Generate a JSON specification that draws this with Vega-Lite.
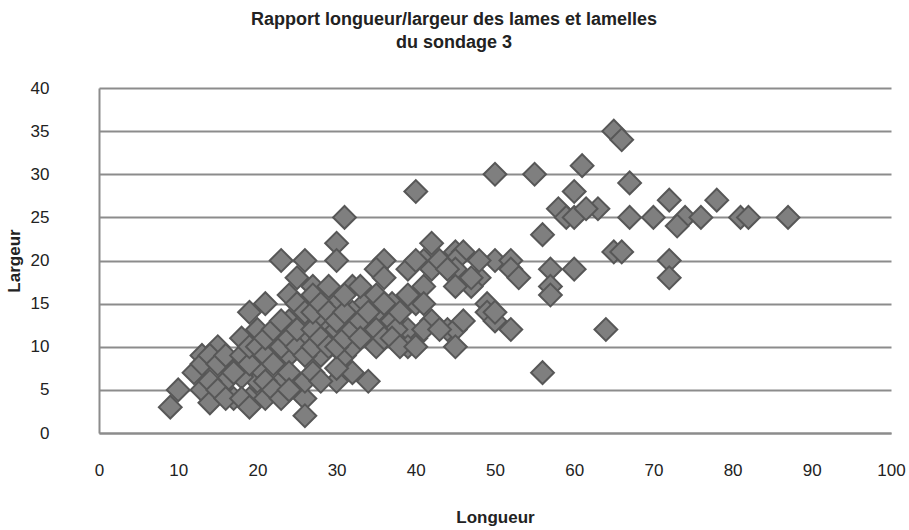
{
"$schema": "https://vega.github.io/schema/vega-lite/v6.json",
"autosize": {"type": "none"},
"padding": {"left": 99, "top": 88, "right": 16, "bottom": 97},
"width": 792,
"height": 345,
"background": "white",
"config": {"view": {"stroke": null}, "font": "Liberation Sans"},
"title": {"text": ["Rapport longueur/largeur des lames et lamelles", "du sondage 3"], "font": "Liberation Sans", "fontSize": 18, "fontWeight": "bold", "color": "#222222", "anchor": "middle", "dx": -41, "offset": 27, "lineHeight": 23},
"data": {"values": [
{"Longueur":65,"Largeur":35},{"Longueur":66,"Largeur":34},{"Longueur":67,"Largeur":29},{"Longueur":61,"Largeur":31},{"Longueur":50,"Largeur":30},{"Longueur":55,"Largeur":30},{"Longueur":40,"Largeur":28},{"Longueur":60,"Largeur":28},{"Longueur":63,"Largeur":26},{"Longueur":67,"Largeur":25},{"Longueur":70,"Largeur":25},{"Longueur":72,"Largeur":27},{"Longueur":74,"Largeur":25},{"Longueur":73,"Largeur":24},{"Longueur":76,"Largeur":25},{"Longueur":78,"Largeur":27},{"Longueur":81,"Largeur":25},{"Longueur":82,"Largeur":25},{"Longueur":87,"Largeur":25},{"Longueur":65,"Largeur":21},{"Longueur":66,"Largeur":21},{"Longueur":72,"Largeur":20},{"Longueur":72,"Largeur":18},{"Longueur":64,"Largeur":12},{"Longueur":58,"Largeur":26},{"Longueur":59,"Largeur":25},{"Longueur":60,"Largeur":25},{"Longueur":61.5,"Largeur":26},{"Longueur":56,"Largeur":23},{"Longueur":42,"Largeur":22},{"Longueur":41,"Largeur":20},{"Longueur":45,"Largeur":21},{"Longueur":46,"Largeur":21},{"Longueur":45,"Largeur":20},{"Longueur":45,"Largeur":19},{"Longueur":50,"Largeur":20},{"Longueur":52,"Largeur":20},{"Longueur":52,"Largeur":19},{"Longueur":53,"Largeur":18},{"Longueur":57,"Largeur":19},{"Longueur":60,"Largeur":19},{"Longueur":57,"Largeur":17},{"Longueur":57,"Largeur":16},{"Longueur":48,"Largeur":18},{"Longueur":47,"Largeur":17},{"Longueur":45,"Largeur":17},{"Longueur":41,"Largeur":17},{"Longueur":49,"Largeur":15},{"Longueur":49,"Largeur":14},{"Longueur":50,"Largeur":13},{"Longueur":52,"Largeur":12},{"Longueur":42,"Largeur":13},{"Longueur":44,"Largeur":12},{"Longueur":45,"Largeur":12},{"Longueur":45,"Largeur":10},{"Longueur":40,"Largeur":11},{"Longueur":56,"Largeur":7},
{"Longueur":31,"Largeur":25},{"Longueur":30,"Largeur":22},{"Longueur":30,"Largeur":20},{"Longueur":23,"Largeur":20},{"Longueur":26,"Largeur":20},{"Longueur":36,"Largeur":20},{"Longueur":35,"Largeur":19},{"Longueur":36,"Largeur":18},{"Longueur":39,"Largeur":19},{"Longueur":25,"Largeur":18},{"Longueur":27,"Largeur":17},{"Longueur":29,"Largeur":17},{"Longueur":32,"Largeur":17},{"Longueur":24,"Largeur":16},{"Longueur":21,"Largeur":15},{"Longueur":27,"Largeur":16},{"Longueur":30,"Largeur":15},{"Longueur":33.5,"Largeur":15},{"Longueur":35,"Largeur":16},{"Longueur":37,"Largeur":15},{"Longueur":40,"Largeur":15},{"Longueur":41,"Largeur":15},{"Longueur":24,"Largeur":13},{"Longueur":26,"Largeur":13},{"Longueur":28,"Largeur":13},{"Longueur":32,"Largeur":14},{"Longueur":35,"Largeur":14},{"Longueur":37,"Largeur":13},{"Longueur":39,"Largeur":12},{"Longueur":20,"Largeur":12},{"Longueur":22,"Largeur":11},{"Longueur":26,"Largeur":11},{"Longueur":29,"Largeur":12},{"Longueur":30,"Largeur":12},{"Longueur":34,"Largeur":12},{"Longueur":37.5,"Largeur":12},{"Longueur":35,"Largeur":10},{"Longueur":39,"Largeur":10},{"Longueur":20,"Largeur":8},{"Longueur":23,"Largeur":8.5},{"Longueur":24,"Largeur":9},{"Longueur":28,"Largeur":9},{"Longueur":31,"Largeur":9},{"Longueur":32,"Largeur":10},{"Longueur":20,"Largeur":6},{"Longueur":23,"Largeur":6},{"Longueur":25,"Largeur":5},{"Longueur":30,"Largeur":6},{"Longueur":32,"Largeur":7},{"Longueur":34,"Largeur":6},{"Longueur":30,"Largeur":7.5},{"Longueur":26,"Largeur":4},{"Longueur":26,"Largeur":2},
{"Longueur":9,"Largeur":3},{"Longueur":10,"Largeur":5},{"Longueur":13,"Largeur":9},{"Longueur":15,"Largeur":10},{"Longueur":16,"Largeur":8},{"Longueur":19,"Largeur":14},{"Longueur":13,"Largeur":5},{"Longueur":14,"Largeur":3.5},{"Longueur":16,"Largeur":6},{"Longueur":19,"Largeur":4},{"Longueur":18,"Largeur":6.5},{"Longueur":20,"Largeur":7.7},
{"Longueur":12,"Largeur":7},{"Longueur":13,"Largeur":8},{"Longueur":14,"Largeur":6},{"Longueur":14,"Largeur":9},{"Longueur":15,"Largeur":5},{"Longueur":15,"Largeur":8},{"Longueur":16,"Largeur":9},{"Longueur":17,"Largeur":4},{"Longueur":17,"Largeur":7},{"Longueur":18,"Largeur":9},{"Longueur":18,"Largeur":11},{"Longueur":19,"Largeur":8},{"Longueur":19,"Largeur":10},{"Longueur":20,"Largeur":10},{"Longueur":21,"Largeur":9},{"Longueur":21,"Largeur":11},{"Longueur":21,"Largeur":6},{"Longueur":21,"Largeur":4},{"Longueur":22,"Largeur":5},{"Longueur":22,"Largeur":8},{"Longueur":22,"Largeur":12},{"Longueur":23,"Largeur":10},{"Longueur":23,"Largeur":13},{"Longueur":24,"Largeur":7},{"Longueur":24,"Largeur":11},{"Longueur":25,"Largeur":10},{"Longueur":25,"Largeur":12},{"Longueur":25,"Largeur":15},{"Longueur":26,"Largeur":9},{"Longueur":26,"Largeur":14},{"Longueur":26,"Largeur":6},{"Longueur":27,"Largeur":7},{"Longueur":27,"Largeur":10},{"Longueur":27,"Largeur":12},{"Longueur":27,"Largeur":14},{"Longueur":28,"Largeur":11},{"Longueur":28,"Largeur":15},{"Longueur":28,"Largeur":6},{"Longueur":29,"Largeur":10},{"Longueur":29,"Largeur":14},{"Longueur":30,"Largeur":10},{"Longueur":30,"Largeur":13},{"Longueur":31,"Largeur":11},{"Longueur":31,"Largeur":14},{"Longueur":31,"Largeur":16},{"Longueur":32,"Largeur":12},{"Longueur":33,"Largeur":13},{"Longueur":33,"Largeur":11},{"Longueur":33,"Largeur":17},{"Longueur":34,"Largeur":14},{"Longueur":35,"Largeur":12},{"Longueur":36,"Largeur":11},{"Longueur":36,"Largeur":15},{"Longueur":37,"Largeur":11},{"Longueur":38,"Largeur":14},{"Longueur":38,"Largeur":10},{"Longueur":39,"Largeur":16},{"Longueur":40,"Largeur":10},{"Longueur":40,"Largeur":20},{"Longueur":41,"Largeur":12},{"Longueur":42,"Largeur":19},{"Longueur":43,"Largeur":20},{"Longueur":43,"Largeur":12},{"Longueur":44,"Largeur":19},{"Longueur":46,"Largeur":13},{"Longueur":47,"Largeur":18},{"Longueur":50,"Largeur":14},{"Longueur":48,"Largeur":20},{"Longueur":23,"Largeur":4},{"Longueur":24,"Largeur":5},{"Longueur":16,"Largeur":4},{"Longueur":18,"Largeur":4},{"Longueur":19,"Largeur":3}
]},
"mark": {"type": "point", "shape": "diamond", "filled": true, "size": 520, "fill": "#7f7f7f", "stroke": "#575757", "strokeWidth": 2, "opacity": 1, "fillOpacity": 1, "strokeOpacity": 1},
"encoding": {
"x": {"field": "Longueur", "type": "quantitative", "scale": {"domain": [0, 100], "nice": false, "zero": true},
"axis": {"title": "Longueur", "values": [0,10,20,30,40,50,60,70,80,90,100], "grid": false, "ticks": false, "domain": true, "domainColor": "#8c8c8c", "domainWidth": 2, "labelPadding": 29, "labelFont": "Liberation Sans", "labelFontSize": 17, "labelColor": "#222222", "labelFlush": false, "titleFont": "Liberation Sans", "titleFontSize": 17, "titleFontWeight": "bold", "titleColor": "#222222", "titlePadding": 31}},
"y": {"field": "Largeur", "type": "quantitative", "scale": {"domain": [0, 40], "nice": false},
"axis": {"title": "Largeur", "values": [0,5,10,15,20,25,30,35,40], "grid": true, "gridColor": "#8c8c8c", "gridWidth": 2, "ticks": false, "domain": true, "domainColor": "#8c8c8c", "domainWidth": 2, "labelPadding": 50, "labelFont": "Liberation Sans", "labelFontSize": 17, "labelColor": "#222222", "labelFlush": false, "titleFont": "Liberation Sans", "titleFontSize": 17, "titleFontWeight": "bold", "titleColor": "#222222", "titlePadding": 7}}
}
}
